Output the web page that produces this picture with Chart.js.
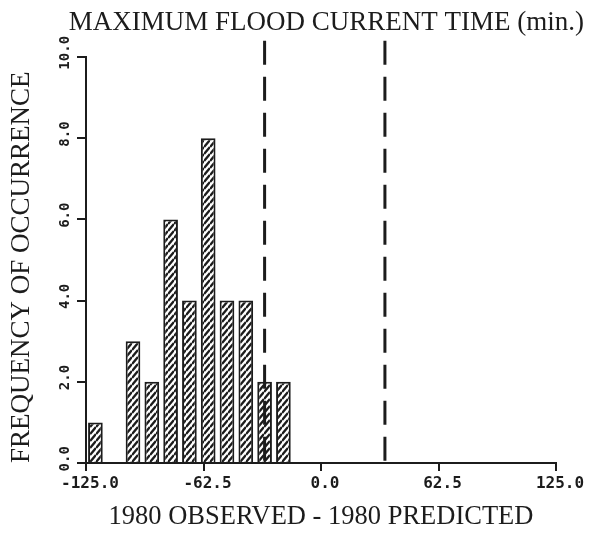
<!DOCTYPE html>
<html>
<head>
<meta charset="utf-8">
<script src="https://cdn.jsdelivr.net/npm/chart.js@4/dist/chart.umd.min.js"></script>
<style>
  html, body { margin: 0; padding: 0; background: #fff; }
  #wrap { width: 589px; height: 537px; }
</style>
</head>
<body>
<div id="wrap"><canvas id="floodChart" width="589" height="537"></canvas></div>
<script>
// histogram: bin centres (min) and number of occurrences
const binCenters = [-120, -100, -90, -80, -70, -60, -50, -40, -30, -20];
const counts = [1, 3, 2, 6, 4, 8, 4, 4, 2, 2];

// dashed limit lines (min)
const limitLines = [-30, 34];

// axis ticks
const xTicks = [-125, -62.5, 0, 62.5, 125];
const yTicks = [0, 2, 4, 6, 8, 10];

const ink = '#1c1c1c';
const dashTop = 10.4;   // dashed lines run a little above the plot

const canvas = document.getElementById('floodChart');
const ctx = canvas.getContext('2d');

// "/" hatching for the bars
function hatchPattern() {
    const w = 6, h = 7;
    const tile = document.createElement('canvas');
    tile.width = w;
    tile.height = h;
    const c = tile.getContext('2d');
    c.fillStyle = '#fff';
    c.fillRect(0, 0, w, h);
    c.strokeStyle = ink;
    c.lineWidth = 2.4;
    c.beginPath();
    [-1, 0, 1].forEach(k => {
        c.moveTo(0, h + k * h);
        c.lineTo(w, k * h);
    });
    c.stroke();
    return ctx.createPattern(tile, 'repeat');
}

const serif = 'Liberation Serif';
const mono = 'DejaVu Sans Mono';

new Chart(ctx, {
    type: 'bar',
    data: {
        datasets: [
            {
                type: 'bar',
                data: binCenters.map((x, i) => ({ x: x, y: counts[i] })),
                backgroundColor: hatchPattern(),
                borderColor: ink,
                borderWidth: 2,
                barPercentage: 0.78,
                categoryPercentage: 1,
                order: 1
            },
            ...limitLines.map(v => ({
                type: 'line',
                data: [{ x: v, y: dashTop }, { x: v, y: 0 }],
                borderColor: ink,
                borderWidth: 3,
                borderDash: [24, 12],
                pointRadius: 0,
                fill: false,
                clip: false,
                order: 0
            }))
        ]
    },
    options: {
        responsive: false,
        animation: false,
        devicePixelRatio: 1,
        layout: { padding: { right: 5 } },
        plugins: {
            legend: { display: false },
            tooltip: { enabled: false },
            title: {
                display: true,
                text: 'MAXIMUM FLOOD CURRENT TIME (min.)',
                align: 'end',
                color: ink,
                font: { family: serif, size: 27, weight: 'normal' },
                padding: { top: 7, bottom: 17.6 }
            }
        },
        scales: {
            x: {
                type: 'linear',
                min: -125,
                max: 125,
                offset: false,
                afterBuildTicks: s => { s.ticks = xTicks.map(value => ({ value })); },
                afterFit: s => { s.height = 74; s.paddingRight = 33; },
                grid: { drawOnChartArea: false, tickLength: 8, color: ink, lineWidth: 2, offset: false },
                border: { display: true, color: ink, width: 2 },
                ticks: {
                    color: ink,
                    font: { family: mono, size: 16, weight: 'bold' },
                    padding: 3,
                    labelOffset: 4,
                    maxRotation: 0,
                    autoSkip: false,
                    callback: v => v.toFixed(1)
                },
                title: {
                    display: true,
                    text: '1980 OBSERVED - 1980 PREDICTED',
                    color: ink,
                    font: { family: serif, size: 26.5, weight: 'normal' },
                    padding: { top: 0, bottom: 4 }
                }
            },
            y: {
                min: 0,
                max: 10,
                afterBuildTicks: s => { s.ticks = yTicks.map(value => ({ value })); },
                afterFit: s => { s.width = 86; },
                grid: { drawOnChartArea: false, tickLength: 9, color: ink, lineWidth: 2 },
                border: { display: true, color: ink, width: 2 },
                ticks: {
                    color: ink,
                    font: { family: mono, size: 14, weight: 'bold' },
                    minRotation: 90,
                    maxRotation: 90,
                    crossAlign: 'center',
                    padding: -9,
                    callback: v => ' ' + v.toFixed(1)
                },
                title: {
                    display: true,
                    text: 'FREQUENCY OF OCCURRENCE',
                    align: 'start',
                    color: ink,
                    font: { family: serif, size: 27, weight: 'normal' },
                    padding: { top: 6, bottom: 0 }
                }
            }
        }
    }
});
</script>
</body>
</html>
